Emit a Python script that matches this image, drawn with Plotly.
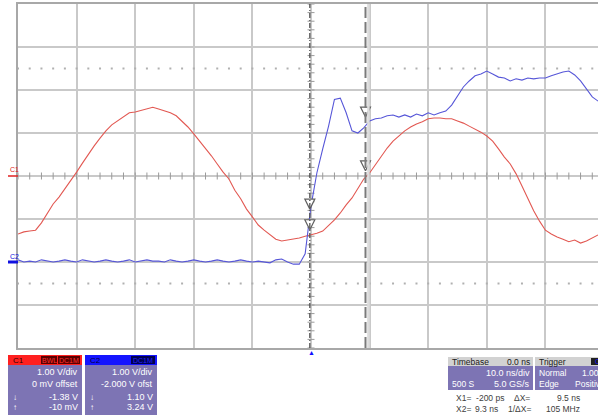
import plotly.graph_objects as go
import numpy as np

# ---------------- data ----------------
time_ns = list(range(-50, 50))  # 10 ns/div, trigger at 0

c1_volts = [
    -1.35, -1.30, -1.28, -1.26, -1.09, -0.86, -0.65, -0.49, -0.30, -0.12,
    0.09, 0.30, 0.51, 0.70, 0.88, 1.05, 1.19, 1.28, 1.37, 1.47,
    1.49, 1.53, 1.56, 1.60, 1.56, 1.51, 1.47, 1.40, 1.28, 1.14,
    0.98, 0.81, 0.65, 0.47, 0.28, 0.09, -0.07, -0.33, -0.53, -0.77,
    -0.95, -1.14, -1.26, -1.37, -1.47, -1.51, -1.49, -1.47, -1.44, -1.40,
    -1.37, -1.33, -1.28, -1.16, -1.02, -0.86, -0.67, -0.51, -0.30, -0.07,
    0.07, 0.26, 0.44, 0.65, 0.81, 0.93, 1.05, 1.14, 1.21, 1.26,
    1.33, 1.35, 1.35, 1.33, 1.33, 1.28, 1.23, 1.16, 1.09, 1.02,
    0.93, 0.81, 0.63, 0.44, 0.28, 0.05, -0.23, -0.51, -0.81, -1.05,
    -1.26, -1.35, -1.42, -1.47, -1.53, -1.49, -1.56, -1.51, -1.44, -1.37,
]

c2_volts = [
    0.05, 0.00, 0.02, 0.00, 0.05, 0.02, 0.00, 0.02, 0.05, 0.02,
    0.00, 0.05, 0.02, 0.00, 0.02, 0.05, 0.02, 0.00, 0.02, 0.05,
    0.00, 0.02, 0.05, 0.02, 0.02, 0.00, 0.05, 0.02, 0.00, 0.02,
    0.05, 0.02, 0.00, 0.02, 0.05, 0.02, 0.00, 0.02, 0.05, 0.02,
    0.00, 0.02, 0.00, -0.02, 0.05, 0.07, 0.00, -0.05, -0.05, 0.19,
    1.30, 2.07, 2.63, 3.16, 3.78, 3.81, 3.47, 3.05, 3.00, 3.12,
    3.28, 3.33, 3.35, 3.40, 3.42, 3.37, 3.42, 3.37, 3.44, 3.40,
    3.47, 3.42, 3.47, 3.51, 3.65, 3.86, 4.07, 4.21, 4.33, 4.37,
    4.44, 4.37, 4.30, 4.28, 4.21, 4.26, 4.23, 4.28, 4.26, 4.28,
    4.28, 4.33, 4.37, 4.42, 4.44, 4.35, 4.21, 4.02, 3.84, 3.74,
]

c1_scale, c1_offset = 1.0, 0.0     # V/div, V
c2_scale, c2_offset = 1.0, -2.0

cursor_t = [-0.2, 9.3]             # X1, X2 in ns
cursor_c1 = [-1.38, -0.01]         # C1 at X1, X2 (V)
cursor_c2 = [1.10, 3.24]           # C2 at X1, X2 (V)

c1_lines = ["1.00 V/div", "0 mV offset", "-1.38 V", "-10 mV"]
c2_lines = ["1.00 V/div", "-2.000 V ofst", "1.10 V", "3.24 V"]

# ---------------- helpers ----------------
W, H = 598, 420
def px(x):
    return x / W
def py(y):
    return 1 - y / H

X_LEFT = 18
PX_PER_NS = 5.86
x_max = -50 + (W - X_LEFT) / PX_PER_NS

c1_div = [(v + c1_offset) / c1_scale for v in c1_volts]
c2_div = [(v + c2_offset) / c2_scale for v in c2_volts]

RED = "#e25852"
BLUE = "#5656d8"
GRID = "#c9c9c9"
TICK = "#9a9a9a"
FONT = "Liberation Sans, Arial, sans-serif"

fig = go.Figure()

# graticule details
tick_x = np.arange(-50, 50, 2.0)
tick_y = np.arange(-4, 4.01, 0.2)
fig.add_trace(go.Scatter(x=tick_x, y=[0] * len(tick_x), mode="markers",
                         marker=dict(symbol="line-ns", size=5, line=dict(width=1, color=TICK)),
                         hoverinfo="skip", showlegend=False))
fig.add_trace(go.Scatter(x=[0] * len(tick_y), y=tick_y, mode="markers",
                         marker=dict(symbol="line-ew", size=5, line=dict(width=1, color=TICK)),
                         hoverinfo="skip", showlegend=False))
for yy in (2.5, -2.5):
    fig.add_trace(go.Scatter(x=tick_x, y=[yy] * len(tick_x), mode="markers",
                             marker=dict(symbol="square", size=2, color="#b0b0b0"),
                             hoverinfo="skip", showlegend=False))

# waveforms
fig.add_trace(go.Scatter(x=time_ns, y=c1_div, mode="lines",
                         line=dict(color=RED, width=1.1), showlegend=False))
fig.add_trace(go.Scatter(x=time_ns, y=c2_div, mode="lines",
                         line=dict(color=BLUE, width=1.1), showlegend=False))

# cursor lines
fig.add_shape(type="line", xref="x", yref="paper", x0=cursor_t[1] + 0.5, x1=cursor_t[1] + 0.5,
              y0=py(348), y1=py(4), line=dict(color="#dcdcdc", width=2.5), layer="above")
fig.add_shape(type="line", xref="x", yref="paper", x0=cursor_t[1], x1=cursor_t[1],
              y0=py(348), y1=py(4), line=dict(color="#7a7a7a", width=2, dash="11px,4px"), layer="above")
fig.add_shape(type="line", xref="x", yref="paper", x0=cursor_t[0], x1=cursor_t[0],
              y0=py(348), y1=py(4), line=dict(color="#505050", width=1.3, dash="5px,2px,1px,2px"), layer="above")

# cursor arrows (tip on value)
arr_y = []
arr_x = []
for t, a, b in zip(cursor_t, cursor_c1, cursor_c2):
    arr_x += [t, t]
    arr_y += [(a + c1_offset) / c1_scale + 0.13, (b + c2_offset) / c2_scale + 0.13]
fig.add_trace(go.Scatter(x=arr_x, y=arr_y, mode="markers",
                         marker=dict(symbol="arrow-down", size=10, color="white",
                                     line=dict(color="#606060", width=1.2)),
                         hoverinfo="skip", showlegend=False))

# trigger position marker below the grid
fig.add_annotation(x=0, y=py(352), xref="x", yref="paper", text="▲", showarrow=False,
                   font=dict(size=7, color="#1010ff"), xanchor="center", yanchor="middle")

# channel ground markers on left
fig.add_shape(type="line", xref="paper", yref="y", x0=px(8), x1=px(18), y0=0, y1=0,
              line=dict(color="#e02020", width=1.5))
fig.add_shape(type="line", xref="paper", yref="y", x0=px(8), x1=px(18), y0=c2_offset / c2_scale,
              y1=c2_offset / c2_scale, line=dict(color="#1010e0", width=3))
fig.add_annotation(x=px(8), y=py(169), xref="paper", yref="paper", text="C1", showarrow=False,
                   font=dict(size=7, color="#e02020", family=FONT), xanchor="left", yanchor="middle")
fig.add_annotation(x=px(8), y=py(256), xref="paper", yref="paper", text="C2", showarrow=False,
                   font=dict(size=7, color="#1010e0", family=FONT), xanchor="left", yanchor="middle")

# ---------------- info panels ----------------
BODY = "#7d74b4"

def rect(x0, y0, x1, y1, color, line=None):
    fig.add_shape(type="rect", xref="paper", yref="paper", x0=px(x0), x1=px(x1),
                  y0=py(y1), y1=py(y0), fillcolor=color,
                  line=dict(width=0) if line is None else line, layer="above")

def text(x, y, s, color="white", anchor="left", size=9):
    fig.add_annotation(x=px(x), y=py(y), xref="paper", yref="paper", text=s, showarrow=False,
                       font=dict(size=size, color=color, family=FONT), xanchor=anchor,
                       yanchor="middle")

def channel_box(x0, x1, name, head_col, badge_col, badge_txt_col, badges, lines):
    rect(x0, 355, x1, 415, BODY)
    rect(x0, 355, x1, 365, head_col)
    text(x0 + 3, 360, name, color="#300000" if head_col != "#1414ff" else "#000040", size=8)
    bx = x1 - 2
    for b, w in reversed(badges):
        rect(bx - w, 356, bx, 364, badge_col)
        text(bx - w / 2, 360, b, color=badge_txt_col, anchor="center", size=7)
        bx -= w + 1
    text(x1 - 2, 372, lines[0], anchor="right")
    text(x1 - 2, 384, lines[1], anchor="right")
    text(x0 + 3, 397, "↓", size=8)
    text(x1 - 2, 397, lines[2], anchor="right")
    text(x0 + 3, 407, "↑", size=8)
    text(x1 - 2, 407, lines[3], anchor="right")

channel_box(8, 82, "C1", "#ff2020", "#5a0000", "#ff3030", [("BWL", 16), ("DC1M", 22)], c1_lines)
channel_box(85, 157, "C2", "#1414ff", "#000050", "#2020ff", [("DC1M", 24)], c2_lines)

# timebase
rect(448, 357, 533, 390, BODY)
rect(448, 357, 533, 366, "#d2d2d2")
text(450, 361.5, "Timebase", color="#202020", size=8.5)
text(532, 361.5, "0.0 ns", color="#202020", anchor="right", size=8.5)
text(532, 373, "10.0 ns/div", anchor="right")
text(450, 384, "500 S", size=8.5)
text(532, 384, "5.0 GS/s", anchor="right")

# trigger (cut by the window edge, as in the screenshot)
rect(535, 357, 610, 390, BODY)
rect(535, 357, 610, 366, "#d2d2d2")
text(537, 361.5, "Trigger", color="#202020", size=8.5)
rect(591, 358, 610, 365, "#202020")
text(593, 361.5, "C2", color="#1414ff", size=7)
text(537, 373, "Normal", size=8.5)
text(580, 373, "1.00 V", size=8.5)
text(537, 384, "Edge", size=8.5)
text(573, 384, "Positive", size=8.5)

# cursor readouts
RD = "#404040"
RS = 8.5
text(454, 398, "X1=  -200 ps", color=RD, size=RS)
text(512, 398, "ΔX=", color=RD, size=RS)
text(582, 398, "9.5 ns", color=RD, anchor="right", size=RS)
text(454, 409, "X2=", color=RD, size=RS)
text(500, 409, "9.3 ns", color=RD, anchor="right", size=RS)
text(506, 409, "1/ΔX=", color=RD, size=RS)
text(582, 409, "105 MHz", color=RD, anchor="right", size=RS)

# ---------------- layout ----------------
fig.update_layout(
    width=W, height=H,
    margin=dict(l=0, r=0, t=0, b=0),
    paper_bgcolor="white", plot_bgcolor="white",
    showlegend=False,
    xaxis=dict(domain=[px(X_LEFT), 1], range=[-50, x_max], tick0=-50, dtick=10,
               showgrid=True, gridcolor=GRID, gridwidth=1.6, zeroline=False,
               showticklabels=False, ticks="", showline=True, linecolor="#a8a8a8",
               linewidth=2, mirror=True, fixedrange=True),
    yaxis=dict(domain=[py(348), py(4)], range=[-4, 4], dtick=1,
               showgrid=True, gridcolor=GRID, gridwidth=1.6, zeroline=False,
               showticklabels=False, ticks="", showline=True, linecolor="#a8a8a8",
               linewidth=2, fixedrange=True),
)

fig.write_html("out.html")
